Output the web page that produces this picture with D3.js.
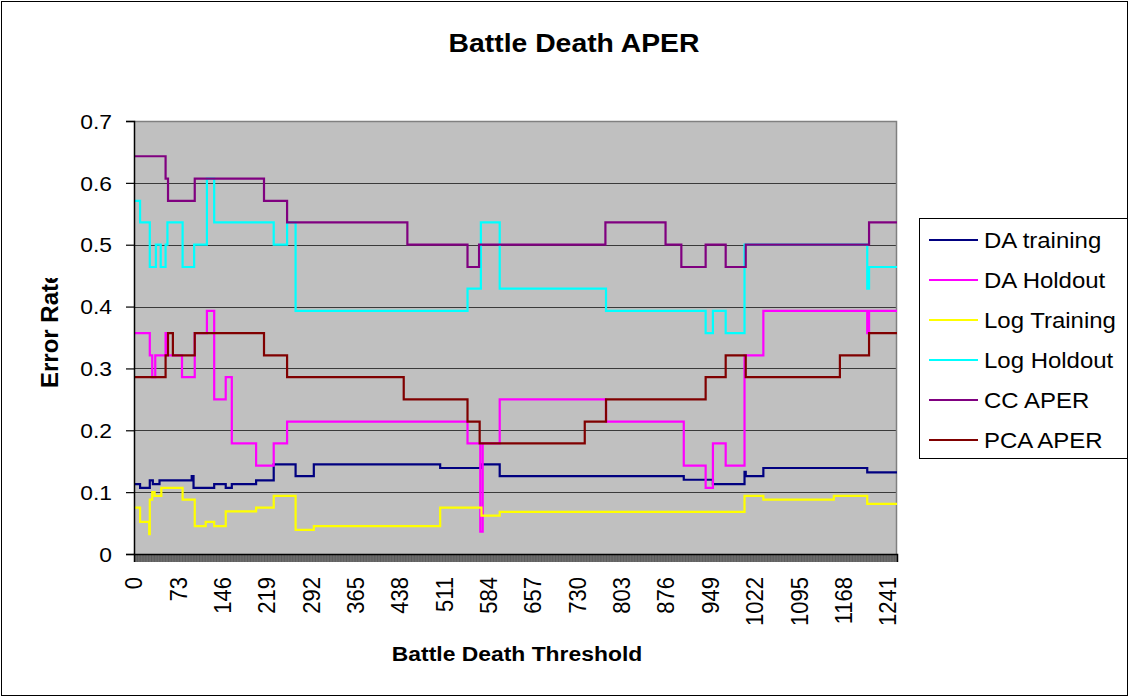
<!DOCTYPE html>
<html>
<head>
<meta charset="utf-8">
<script src="https://cdn.jsdelivr.net/npm/d3@7"></script>
<style>
  html, body { margin: 0; padding: 0; background: #fff; }
  svg { display: block; font-family: "Liberation Sans", Arial, sans-serif; }
</style>
</head>
<body>
<svg id="chart" width="1129" height="698"></svg>
<script>
// Threshold range and axis labels
const thresholdMax = 1256;
const thresholdLabels = [0, 73, 146, 219, 292, 365, 438, 511, 584, 657, 730, 803, 876, 949, 1022, 1095, 1168, 1241];
const rateTicks = [0, 0.1, 0.2, 0.3, 0.4, 0.5, 0.6, 0.7];

// Error rates per series: [threshold where the value starts, rate]
const daTraining = [
  [0, 0.113], [10, 0.107], [26, 0.119], [31, 0.113], [42, 0.119], [95, 0.126], [98, 0.107],
  [132, 0.113], [151, 0.107], [161, 0.113], [201, 0.119], [230, 0.145], [266, 0.126],
  [296, 0.145], [504, 0.139], [571, 0.145], [602, 0.126], [905, 0.120], [953, 0.113],
  [1005, 0.133], [1007, 0.126], [1036, 0.139], [1207, 0.132]
];
const daHoldout = [
  [0, 0.357], [26, 0.321], [30, 0.286], [35, 0.321], [52, 0.357], [55, 0.321], [79, 0.286],
  [100, 0.357], [120, 0.393], [132, 0.250], [151, 0.286], [161, 0.179], [201, 0.143],
  [230, 0.179], [252, 0.214], [549, 0.179], [570, 0.036], [574, 0.179], [602, 0.250],
  [777, 0.214], [905, 0.143], [941, 0.107], [953, 0.179], [974, 0.143], [1005, 0.321],
  [1036, 0.393], [1207, 0.357], [1210, 0.393]
];
const logTraining = [
  [0, 0.075], [10, 0.052], [25, 0.032], [26, 0.088], [30, 0.100], [34, 0.094], [45, 0.107],
  [80, 0.088], [100, 0.045], [118, 0.052], [132, 0.045], [151, 0.069], [201, 0.075],
  [230, 0.094], [266, 0.039], [296, 0.045], [504, 0.075], [572, 0.062], [602, 0.068],
  [1005, 0.094], [1036, 0.088], [1152, 0.094], [1207, 0.081]
];
const logHoldout = [
  [0, 0.571], [10, 0.536], [26, 0.464], [36, 0.500], [44, 0.464], [52, 0.500], [55, 0.536],
  [80, 0.464], [99, 0.500], [120, 0.607], [132, 0.536], [230, 0.500], [252, 0.536],
  [266, 0.393], [549, 0.429], [571, 0.536], [602, 0.429], [777, 0.393], [941, 0.357],
  [953, 0.393], [974, 0.357], [1005, 0.500], [1207, 0.429], [1210, 0.464]
];
const ccAper = [
  [0, 0.643], [52, 0.607], [56, 0.571], [100, 0.607], [214, 0.571], [252, 0.536],
  [450, 0.500], [549, 0.464], [568, 0.500], [776, 0.536], [875, 0.500], [901, 0.464],
  [941, 0.500], [974, 0.464], [1007, 0.500], [1210, 0.536]
];
const pcaAper = [
  [0, 0.286], [52, 0.321], [56, 0.357], [64, 0.321], [100, 0.357], [214, 0.321],
  [252, 0.286], [444, 0.250], [549, 0.214], [569, 0.179], [742, 0.214], [777, 0.250],
  [941, 0.286], [974, 0.321], [1007, 0.286], [1162, 0.321], [1210, 0.357]
];

const seriesNames = ["DA training", "DA Holdout", "Log Training", "Log Holdout", "CC APER", "PCA APER"];
const seriesColors = ["#000080", "#FF00FF", "#FFFF00", "#00FFFF", "#800080", "#800000"];
const seriesData = [daTraining, daHoldout, logTraining, logHoldout, ccAper, pcaAper];

const svg = d3.select("#chart");
const W = 1129, H = 698;
const plot = { left: 134, right: 897, top: 121, bottom: 554 };
const stretch = 1.09; // horizontal text widening

// Outer frame
svg.append("rect")
  .attr("x", 1.5).attr("y", 1.5).attr("width", W - 3).attr("height", H - 4)
  .attr("fill", "#fff").attr("stroke", "#000").attr("stroke-width", 1);

const x = d3.scaleLinear().domain([0, thresholdMax]).range([plot.left, plot.right]);
const y = d3.scaleLinear().domain([0, 0.7]).range([plot.bottom, plot.top]);

// Plot background
svg.append("rect")
  .attr("x", plot.left).attr("y", plot.top)
  .attr("width", plot.right - plot.left).attr("height", plot.bottom - plot.top)
  .attr("fill", "#C0C0C0");

// Horizontal gridlines
svg.append("g").selectAll("line")
  .data(rateTicks.filter(v => v > 0 && v < 0.7))
  .join("line")
  .attr("x1", plot.left).attr("x2", plot.right)
  .attr("y1", d => Math.round(y(d)) + 0.5).attr("y2", d => Math.round(y(d)) + 0.5)
  .attr("stroke", "#3a3a3a").attr("stroke-width", 1);

// Plot border (top and right)
svg.append("path")
  .attr("d", `M${plot.left},${plot.top + 0.5}H${plot.right - 0.5}V${plot.bottom}`)
  .attr("fill", "none").attr("stroke", "#808080").attr("stroke-width", 1.5);

// Series lines
const line = d3.line()
  .x(d => x(d[0]))
  .y(d => y(d[1]))
  .curve(d3.curveStepAfter);

svg.append("g").selectAll("path")
  .data(seriesData)
  .join("path")
  .attr("d", d => line(d.concat([[thresholdMax, d[d.length - 1][1]]])))
  .attr("fill", "none")
  .attr("stroke", (d, i) => seriesColors[i])
  .attr("stroke-width", 2.2)
  .attr("stroke-linejoin", "miter");

// Y axis
const yAxis = svg.append("g")
  .attr("transform", `translate(${plot.left},0)`)
  .call(d3.axisLeft(y).tickValues(rateTicks).tickSize(8).tickPadding(0)
    .tickFormat(d => d === 0 ? "0" : d.toFixed(1)));
yAxis.select(".domain").attr("stroke", "#000").attr("stroke-width", 1.5);
yAxis.selectAll(".tick line").attr("stroke", "#000").attr("stroke-width", 1.2);
yAxis.selectAll(".tick text")
  .attr("x", null).attr("dy", null)
  .attr("font-size", 21).attr("fill", "#000")
  .attr("text-anchor", "end")
  .attr("dominant-baseline", "central")
  .attr("transform", `translate(-22,0) scale(${stretch},1)`);

// X axis: a tick for every threshold value
const xAxis = svg.append("g")
  .attr("transform", `translate(0,${plot.bottom})`)
  .call(d3.axisBottom(x).tickValues(d3.range(0, thresholdMax + 1)).tickSize(8).tickFormat(""));
xAxis.select(".domain").attr("stroke", "#000").attr("stroke-width", 1.5);
xAxis.selectAll(".tick line").attr("stroke", "#000").attr("stroke-width", 0.55).attr("stroke-opacity", 0.85);

// X tick labels, rotated
svg.append("g").selectAll("text")
  .data(thresholdLabels)
  .join("text")
  .attr("transform", d => `translate(${x(d)},577) scale(${stretch},1) rotate(-90)`)
  .attr("text-anchor", "end")
  .attr("dominant-baseline", "central")
  .attr("font-size", 22)
  .attr("fill", "#000")
  .text(d => d);

// Title
svg.append("text")
  .attr("transform", `translate(574,52) scale(${stretch},1)`)
  .attr("text-anchor", "middle")
  .attr("font-size", 26).attr("font-weight", "bold")
  .text("Battle Death APER");

// X axis title
svg.append("text")
  .attr("transform", `translate(517,661) scale(${stretch},1)`)
  .attr("text-anchor", "middle")
  .attr("font-size", 21).attr("font-weight", "bold")
  .text("Battle Death Threshold");

// Y axis title (clipped at the top)
svg.append("clipPath").attr("id", "ytitle-clip")
  .append("rect").attr("x", 0).attr("y", 278).attr("width", 120).attr("height", 200);
svg.append("g").attr("clip-path", "url(#ytitle-clip)")
  .append("text")
  .attr("transform", "translate(58,388) rotate(-90)")
  .attr("text-anchor", "start")
  .attr("font-size", 24).attr("font-weight", "bold")
  .text("Error Rate");

// Legend
const legend = svg.append("g");
legend.append("rect")
  .attr("x", 919.5).attr("y", 218.5).attr("width", 208).attr("height", 240)
  .attr("fill", "#fff").attr("stroke", "#000").attr("stroke-width", 1);
const items = legend.selectAll("g.item")
  .data(seriesNames)
  .join("g")
  .attr("class", "item")
  .attr("transform", (d, i) => `translate(0,${240 + i * 40})`);
items.append("line")
  .attr("x1", 929).attr("x2", 978)
  .attr("stroke", (d, i) => seriesColors[i]).attr("stroke-width", 2);
items.append("text")
  .attr("transform", `translate(984,0) scale(${stretch},1)`)
  .attr("dominant-baseline", "central")
  .attr("font-size", 22)
  .text(d => d);
</script>
</body>
</html>
